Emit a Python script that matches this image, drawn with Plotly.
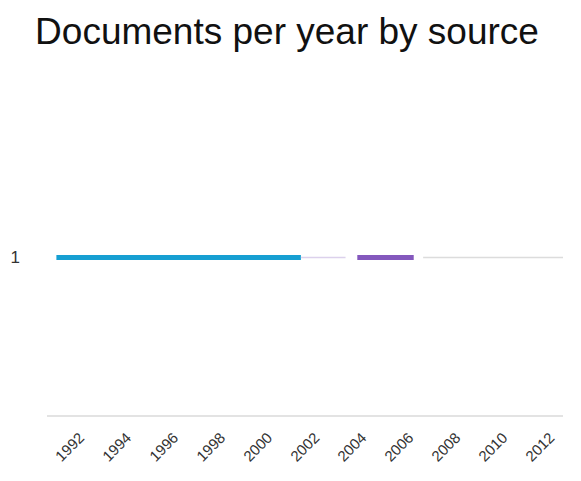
import plotly.graph_objects as go

# Each source is a span of years on a single track; stroke width shows volume
sources = ["Source A", "Source B", "Source C", "Source D"]
span_start = [1991.0, 2001.4, 2003.8, 2006.6]
span_end = [2001.4, 2003.3, 2006.2, 2012.55]
docs_per_year = [4, 1, 4, 1]
track = [1, 1, 1, 1]

tick_years = list(range(1992, 2013, 2))

colors = ["#169fd2", "#dcd1ec", "#8458bd", "#dcdcdc"]

fig = go.Figure()
for name, x0, x1, n, y, c in zip(sources, span_start, span_end, docs_per_year, track, colors):
    fig.add_trace(go.Scatter(
        x=[x0, x1], y=[y, y], mode="lines", name=name,
        line=dict(color=c, width=1.3 * n),
        hovertemplate=name + "<br>%{x}<extra></extra>",
        showlegend=False,
    ))

fig.update_layout(
    width=581, height=481,
    margin=dict(l=47, r=18, t=100, b=66),
    paper_bgcolor="white", plot_bgcolor="white",
    title=dict(text="Documents per year by source", x=0.494, xanchor="center",
               y=0.935, yanchor="middle",
               font=dict(family="Liberation Sans, Arial", size=37, color="#111")),
    font=dict(family="Liberation Sans, Arial", color="#333"),
    xaxis=dict(range=[1990.6, 2012.55], tickvals=tick_years,
               ticktext=[str(v) for v in tick_years], tickangle=-45,
               showgrid=False, zeroline=False, showline=True,
               linecolor="#e3e3e3", linewidth=2, ticks="", ticklabelstandoff=6,
               tickfont=dict(size=15, color="#333")),
    yaxis=dict(range=[0, 2], tickvals=[1], ticktext=["1"], showgrid=False,
               zeroline=False, showline=False, ticks="", ticklabelstandoff=26,
               tickfont=dict(family="Liberation Sans, Arial", size=17, color="#333")),
)

fig.write_html("out.html")
